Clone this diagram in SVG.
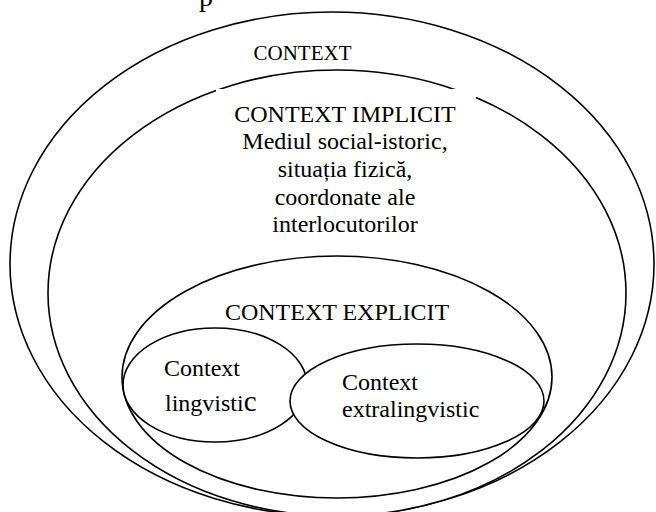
<svg xmlns="http://www.w3.org/2000/svg" width="656" height="512" viewBox="0 0 656 512">
<style>
.sh{fill:#fff;stroke:#000;stroke-width:1.6}
text{fill:#000}
.t{text-anchor:middle}
</style>
<rect width="656" height="512" fill="#fff"/>
<g font-family="'Liberation Serif', 'Times New Roman', 'DejaVu Serif', serif">
<text x="199" y="6" font-size="28">p</text>
<g id="context">
<ellipse class="sh" cx="332" cy="264" rx="322" ry="252"/>
<text class="t" x="302.5" y="60" font-size="21">CONTEXT</text>
</g>
<g id="context-implicit">
<ellipse class="sh" cx="337" cy="293" rx="289" ry="223"/>
<rect x="216" y="89" width="260" height="150" fill="#fff"/>
<text class="t" x="345" y="122" font-size="24">CONTEXT IMPLICIT</text>
<text class="t" x="345" y="149" font-size="24">Mediul social-istoric,</text>
<text class="t" x="345" y="177" font-size="24">situația fizică,</text>
<text class="t" x="345" y="205" font-size="24">coordonate ale</text>
<text class="t" x="345" y="232" font-size="24">interlocutorilor</text>
</g>
<g id="context-explicit">
<ellipse class="sh" cx="337" cy="377" rx="215" ry="121"/>
<text class="t" x="337" y="320" font-size="24">CONTEXT EXPLICIT</text>
</g>
<g id="context-lingvistic">
<ellipse class="sh" cx="215" cy="385" rx="92" ry="57"/>
<text x="164" y="376" font-size="24">Context</text>
<text x="165" y="411" font-size="24">lingvisti<tspan font-size="29">c</tspan></text>
</g>
<g id="context-extralingvistic">
<ellipse class="sh" cx="417" cy="401" rx="127" ry="57"/>
<text x="342" y="390" font-size="24">Context</text>
<text x="342" y="417" font-size="24">extralingvistic</text>
</g>
</g>
<g id="connectors"/>
</svg>
